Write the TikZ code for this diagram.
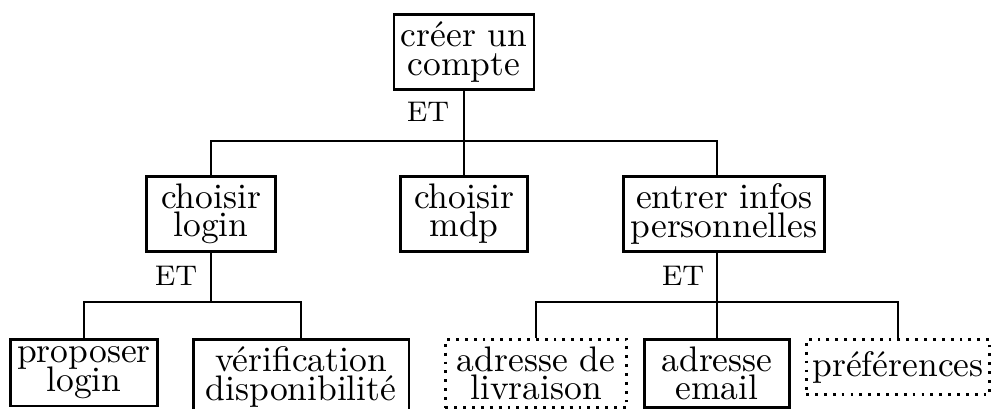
\documentclass[tikz,border=0pt]{standalone}
\usepackage{fontspec}
\usepackage{tikz}

\begin{document}
\begin{tikzpicture}[x=0.2817pt,y=-0.2817pt,line width=0.8pt,
  box/.style={draw,anchor=north,align=center,inner xsep=1.8pt,inner ysep=2.1pt,
    minimum height=15.5pt,font={\fontsize{10}{8}\selectfont\lineskiplimit=-20pt}},
  optbox/.style={box,dash pattern=on 0.8pt off 1.7pt},
  et/.style={inner sep=0pt,font={\fontsize{8}{9}\selectfont}}]
\useasboundingbox (0,0) rectangle (992,408);

\node[box,minimum width=39.4pt] (root) at (464,13) {créer un\\compte};
\node[et] (et1) at (428,112) {ET};

\node[box,minimum width=36.3pt] (login) at (211,175) {choisir\\login};
\node[box,minimum width=35.8pt] (mdp) at (464,175) {choisir\\mdp};
\node[box,minimum width=56.6pt] (infos) at (724,175) {entrer infos\\personnelles};
\node[et] (et2) at (176,276) {ET};
\node[et] (et3) at (683,276) {ET};

\node[box,minimum width=40.6pt] (propose) at (84,338) {proposer\\login};
\node[box,minimum width=60.8pt] (verif) at (301,338) {vérification\\disponibilité};
\node[optbox,minimum width=51pt] (livraison) at (536,338) {adresse de\\livraison};
\node[box,minimum width=40.8pt] (email) at (717,338) {adresse\\email};
\node[optbox,minimum width=51.3pt] (prefs) at (898,338) {préférences};

\coordinate (bar1) at (464,141);
\coordinate (bar2) at (211,302);

\draw (root.south) -- (bar1);
\draw (login.north) |- (bar1 -| email) -- (infos.north -| email);
\draw (mdp.north) -- (mdp.north |- bar1);

\draw (login.south) -- (bar2);
\draw (propose.north) |- (bar2 -| verif) -- (verif.north);
\draw (infos.south -| email) -- (email.north);
\draw (livraison.north) |- (bar2 -| prefs) -- (prefs.north);
\end{tikzpicture}
\end{document}
